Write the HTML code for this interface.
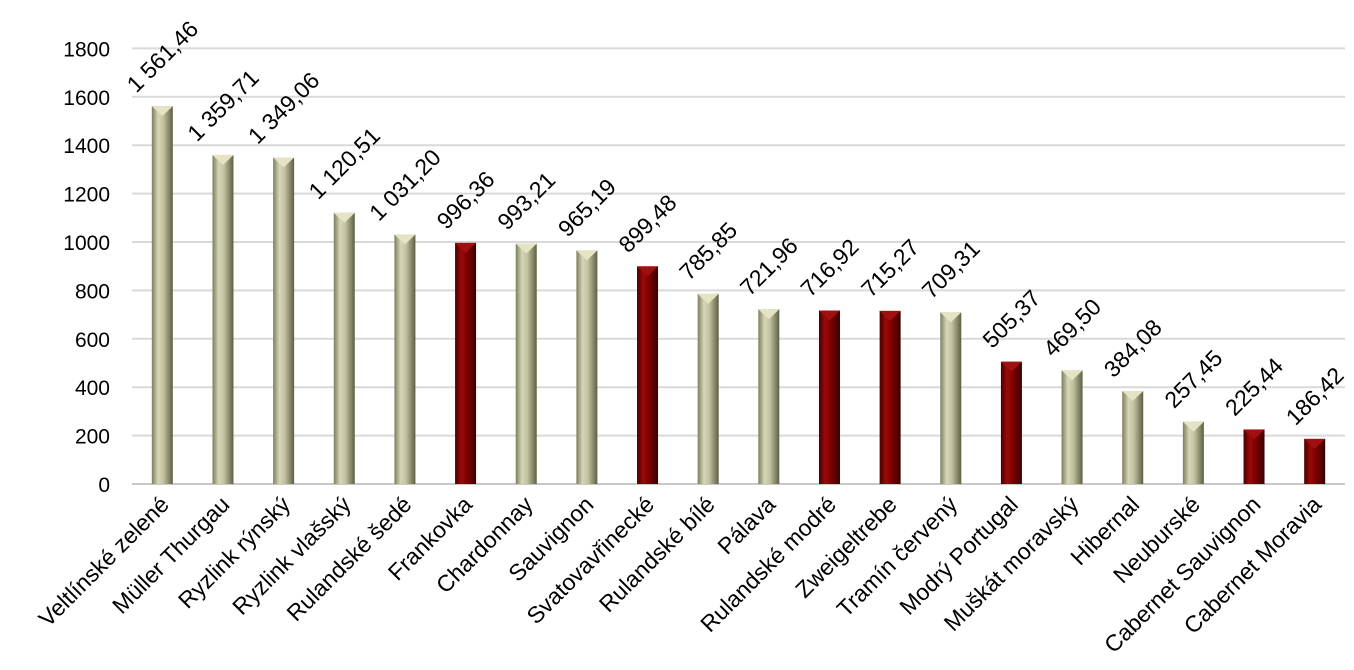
<!DOCTYPE html>
<html><head><meta charset="utf-8"><style>
html,body{margin:0;padding:0;background:#fff;}
svg{display:block;font-family:"Liberation Sans",sans-serif;}
</style></head><body>
<svg id="chart" width="1354" height="670" viewBox="0 0 1354 670">
<defs>
<linearGradient id="gG" x1="0" x2="1" y1="0" y2="0">
<stop offset="0" stop-color="#7d7d5e"/><stop offset="0.3" stop-color="#d6d6b8"/><stop offset="0.55" stop-color="#c2c2a0"/><stop offset="1" stop-color="#5e5e44"/></linearGradient>
<linearGradient id="gR" x1="0" x2="1" y1="0" y2="0">
<stop offset="0" stop-color="#4a0000"/><stop offset="0.3" stop-color="#9a0a0a"/><stop offset="0.55" stop-color="#800000"/><stop offset="1" stop-color="#3a0000"/></linearGradient>
</defs>
<g id="grid"></g><g id="bars"></g><g id="labels"></g>
</svg>
<script>
const categories=["Veltlínské zelené","Müller Thurgau","Ryzlink rýnský","Ryzlink vlašský","Rulandské šedé","Frankovka","Chardonnay","Sauvignon","Svatovavřinecké","Rulandské bílé","Pálava","Rulandské modré","Zweigeltrebe","Tramín červený","Modrý Portugal","Muškát moravský","Hibernal","Neuburské","Cabernet Sauvignon","Cabernet Moravia"];
const values=[1561.46,1359.71,1349.06,1120.51,1031.20,996.36,993.21,965.19,899.48,785.85,721.96,716.92,715.27,709.31,505.37,469.50,384.08,257.45,225.44,186.42];
const isRed=[0,0,0,0,0,1,0,0,1,0,0,1,1,0,1,0,0,0,1,1];
const yTicks=[0,200,400,600,800,1000,1200,1400,1600,1800];
const NS="http://www.w3.org/2000/svg";
const L=132,R=1345,Y0=484,Ymax=48.4,VMAX=1800;
const y=v=>Y0-(v/VMAX)*(Y0-Ymax);
const step=(R-L)/categories.length;
const x=i=>L+step*(i+0.5);
function mk(t,a,p){const e=document.createElementNS(NS,t);for(const k in a)e.setAttribute(k,a[k]);p.appendChild(e);return e;}
const grid=document.getElementById('grid'),bars=document.getElementById('bars'),labs=document.getElementById('labels');
const fmt=v=>{let s=v.toFixed(2).replace('.',',');let [a,b]=s.split(',');if(a.length>3)a=a.slice(0,a.length-3)+' '+a.slice(-3);return a+','+b;};
yTicks.forEach(t=>{
 const ln=mk('line',{x1:L,x2:R,y1:y(t),y2:y(t),stroke:t===0?'#c8c8c8':'#d9d9d9','stroke-width':2},grid);
 
 
 const tx=mk('text',{x:110,y:y(t)+8,'text-anchor':'end','font-size':21,fill:'#000'},grid);
 tx.textContent=t;
 
 
});
const w=21;
values.forEach((v,i)=>{
 const cx=x(i),top=y(v);
 const g=mk('g',{},bars);
 
 
 mk('rect',{x:cx-w/2,y:top,width:w,height:Y0-top,fill:isRed[i]?'url(#gR)':'url(#gG)'},g);
 mk('polygon',{points:`${cx-w/2},${top} ${cx+w/2},${top} ${cx},${top+10}`,fill:isRed[i]?'#a01010':'#e4e4c4'},g);
 const vt=mk('text',{'font-size':23,'text-anchor':'middle',fill:'#000'},labs);
 vt.textContent=fmt(v);
 
 
 const tl=vt.getComputedTextLength();
 const cy=top-12-tl*0.707/2-6;
 vt.setAttribute('transform',`translate(${cx},${cy}) rotate(-45) translate(0,8)`);
 const ct=mk('text',{'font-size':23,'text-anchor':'end',fill:'#000',transform:`translate(${cx+8},${Y0+22}) rotate(-45)`},labs);
 ct.textContent=categories[i];
 
 
});
</script>
</body></html>
